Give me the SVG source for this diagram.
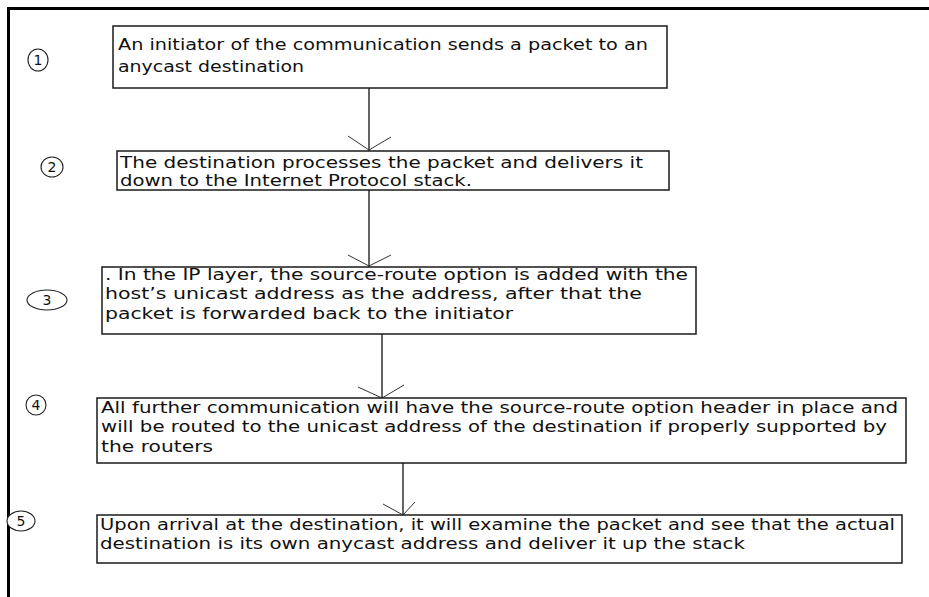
<svg xmlns="http://www.w3.org/2000/svg" width="929" height="597" viewBox="0 0 929 597">
  <style>
    .frame { fill: none; stroke: #000; stroke-width: 3; }
    .box { fill: #fff; stroke: #1a1a1a; stroke-width: 1.5; }
    .txt { font-family: "DejaVu Sans", "Liberation Sans", sans-serif; font-size: 15px; fill: #111; }
    .num { font-family: "DejaVu Sans", "Liberation Sans", sans-serif; font-size: 14px; fill: #111; text-anchor: middle; }
    .mark { fill: #fff; stroke: #222; stroke-width: 1.1; }
    .link { fill: none; stroke: #111; stroke-width: 1.3; }
    .head { fill: none; stroke: #333; stroke-width: 1; }
  </style>
  <rect width="929" height="597" fill="#fff"/>
  <!-- outer frame: top and left edges only -->
  <path class="frame" d="M8.5,597 V8.5 H929"/>

  <g id="connectors">
    <line class="link" x1="369" y1="88" x2="369" y2="151"/>
    <polyline class="head" points="348,136 369,150 391,137"/>
    <line class="link" x1="369" y1="190" x2="369" y2="267"/>
    <polyline class="head" points="348,255 369,266 391,255"/>
    <line class="link" x1="382" y1="334" x2="382" y2="398"/>
    <polyline class="head" points="358,387 382,398 404,385"/>
    <line class="link" x1="403" y1="463" x2="403" y2="515"/>
    <polyline class="head" points="383,504 403,515 415,502"/>
  </g>

  <g id="step1">
    <ellipse class="mark" cx="38" cy="60" rx="10" ry="11"/>
    <text class="num" x="38" y="65">1</text>
    <rect class="box" x="113" y="26" width="554" height="62"/>
    <text class="txt" x="118" y="50" textLength="530" lengthAdjust="spacingAndGlyphs">An initiator of the communication sends a packet to an</text>
    <text class="txt" x="118" y="72" textLength="186" lengthAdjust="spacingAndGlyphs">anycast destination</text>
  </g>

  <g id="step2">
    <ellipse class="mark" cx="52" cy="167" rx="11" ry="10"/>
    <text class="num" x="52" y="172">2</text>
    <rect class="box" x="117" y="151" width="552" height="39"/>
    <text class="txt" x="120" y="168" textLength="523" lengthAdjust="spacingAndGlyphs">The destination processes the packet and delivers it</text>
    <text class="txt" x="120" y="186" textLength="352" lengthAdjust="spacingAndGlyphs">down to the Internet Protocol stack.</text>
  </g>

  <g id="step3">
    <ellipse class="mark" cx="47" cy="300" rx="20" ry="10"/>
    <text class="num" x="47" y="305">3</text>
    <rect class="box" x="102" y="267" width="594" height="67"/>
    <text class="txt" x="105" y="280" textLength="583" lengthAdjust="spacingAndGlyphs">. In the IP layer, the source-route option is added with the</text>
    <text class="txt" x="105" y="299" textLength="537" lengthAdjust="spacingAndGlyphs">host’s unicast address as the address, after that the</text>
    <text class="txt" x="105" y="319" textLength="408" lengthAdjust="spacingAndGlyphs">packet is forwarded back to the initiator</text>
  </g>

  <g id="step4">
    <ellipse class="mark" cx="36" cy="405" rx="10" ry="10"/>
    <text class="num" x="36" y="410">4</text>
    <rect class="box" x="97" y="398" width="809" height="65"/>
    <text class="txt" x="101" y="413" textLength="797" lengthAdjust="spacingAndGlyphs">All further communication will have the source-route option header in place and</text>
    <text class="txt" x="101" y="432" textLength="786" lengthAdjust="spacingAndGlyphs">will be routed to the unicast address of the destination if properly supported by</text>
    <text class="txt" x="101" y="452" textLength="112" lengthAdjust="spacingAndGlyphs">the routers</text>
  </g>

  <g id="step5">
    <ellipse class="mark" cx="21" cy="521" rx="14" ry="10"/>
    <text class="num" x="21" y="526">5</text>
    <rect class="box" x="97" y="515" width="805" height="48"/>
    <text class="txt" x="100" y="530" textLength="795" lengthAdjust="spacingAndGlyphs">Upon arrival at the destination, it will examine the packet and see that the actual</text>
    <text class="txt" x="100" y="549" textLength="645" lengthAdjust="spacingAndGlyphs">destination is its own anycast address and deliver it up the stack</text>
  </g>
</svg>
